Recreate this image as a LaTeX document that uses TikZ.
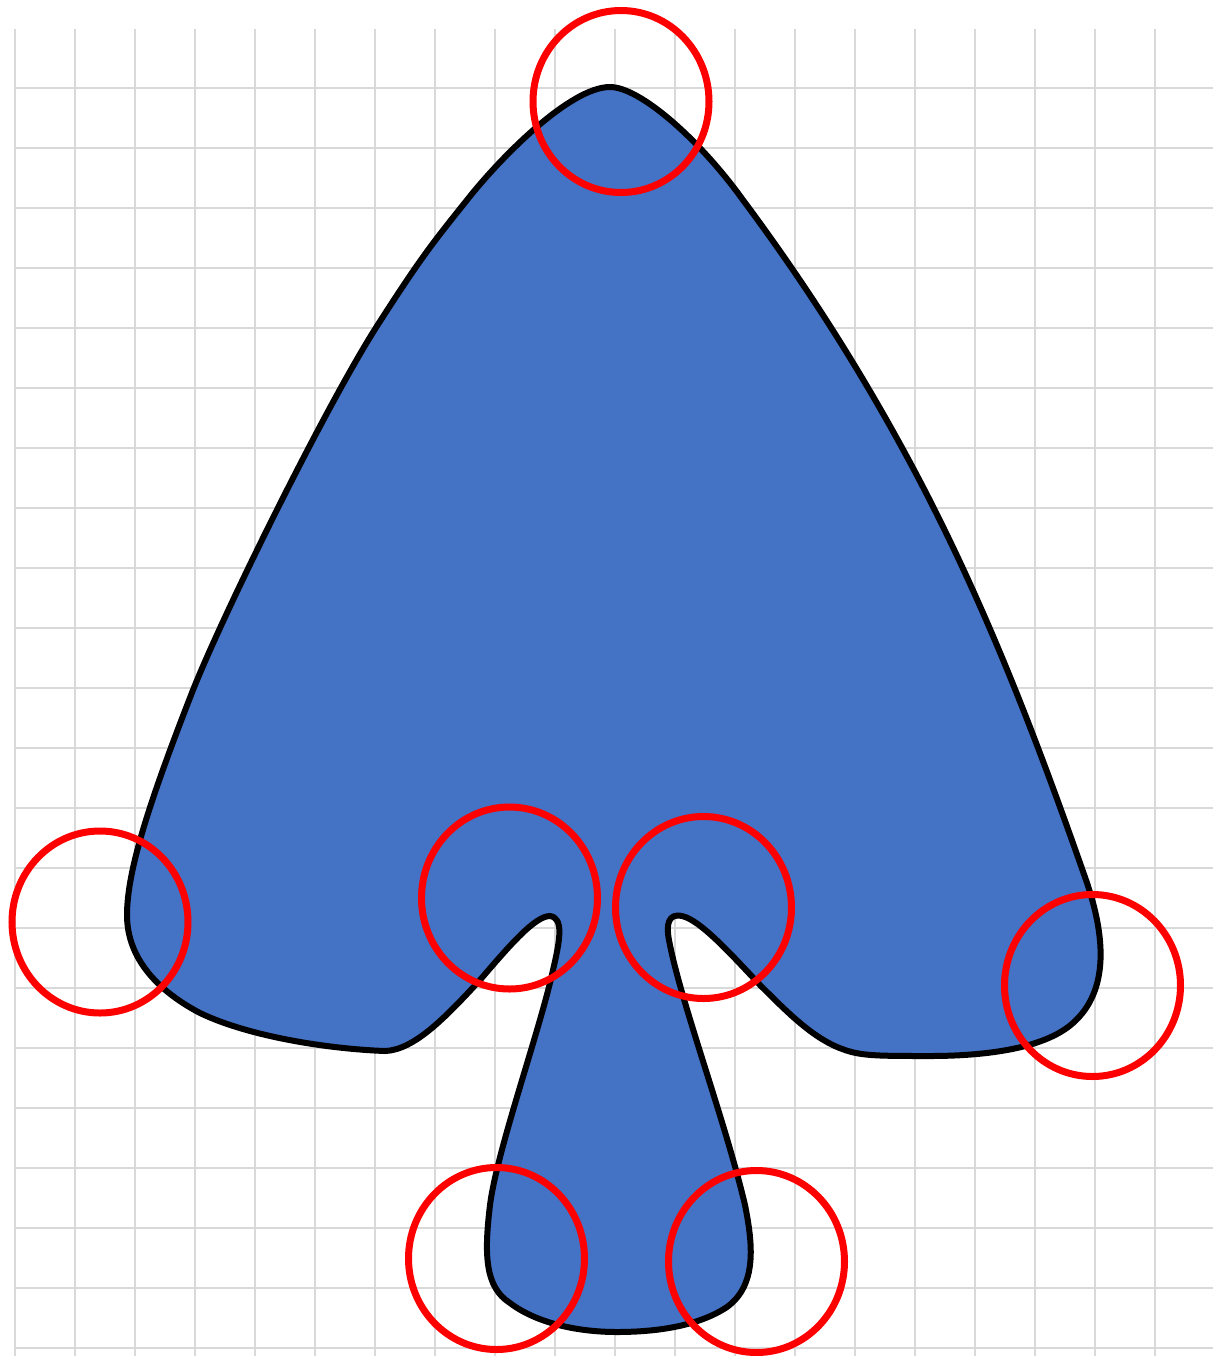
\documentclass[tikz,border=0pt]{standalone}
\usepackage{tikz}
\usetikzlibrary{shapes.geometric}
\definecolor{capblue}{HTML}{4472C4}
\definecolor{gridgray}{HTML}{D9D9D9}
\tikzset{
  gridline/.style={draw=gridgray, line width=1pt},
  blob/.style={draw=black, line width=3pt, fill=capblue, line join=round},
  ring/.style={draw=red, ellipse, line width=3.5pt, inner sep=0pt, minimum width=88pt, minimum height=91pt}
}
\begin{document}
\begin{tikzpicture}[x=0.5pt, y=-0.5pt]
\useasboundingbox (0,0) rectangle (1213,1356);
\foreach \gx in {15,75,...,1155} \draw[gridline] (\gx,29) -- (\gx,1356);
\foreach \gy in {88,148,...,1348} \draw[gridline] (15,\gy) -- (1213,\gy);
\draw[blob] (610,87)
  .. controls (640,87) and (700,140) .. (743,200)
  .. controls (810,290) and (865,378) .. (913,468)
  .. controls (986,605) and (1038,743) .. (1086,880)
  .. controls (1105,935) and (1110,990) .. (1073,1023)
  .. controls (1043,1050) and (980,1056) .. (930,1056)
  .. controls (880,1056) and (862,1056) .. (845,1050)
  .. controls (815,1040) and (790,1015) .. (760,985)
  .. controls (730,953) and (700,920) .. (682,916)
  .. controls (668,913) and (666,925) .. (669,940)
  .. controls (680,1000) and (725,1120) .. (745,1205)
  .. controls (753,1245) and (757,1285) .. (727,1307)
  .. controls (700,1325) and (660,1332) .. (617,1332)
  .. controls (575,1332) and (535,1322) .. (510,1303)
  .. controls (485,1287) and (484,1255) .. (490,1205)
  .. controls (497,1150) and (540,1030) .. (553,970)
  .. controls (560,940) and (564,918) .. (550,916)
  .. controls (535,916) and (510,945) .. (480,980)
  .. controls (445,1018) and (414,1050) .. (385,1051)
  .. controls (330,1049) and (250,1037) .. (200,1013)
  .. controls (160,992) and (127,960) .. (127,915)
  .. controls (127,870) and (150,800) .. (193,690)
  .. controls (225,610) and (326,406) .. (377,326)
  .. controls (420,259) and (431,245) .. (467,200)
  .. controls (500,158) and (570,87) .. cycle;
\node[ring] (apex) at (621,101.5) {};
\node[ring] (lobeL) at (100,922) {};
\node[ring] (notchL) at (509.5,898) {};
\node[ring] (notchR) at (703.5,907.5) {};
\node[ring] (lobeR) at (1092.5,985.5) {};
\node[ring] (footL) at (496.5,1258.5) {};
\node[ring] (footR) at (756.5,1261.5) {};
\end{tikzpicture}
\end{document}
